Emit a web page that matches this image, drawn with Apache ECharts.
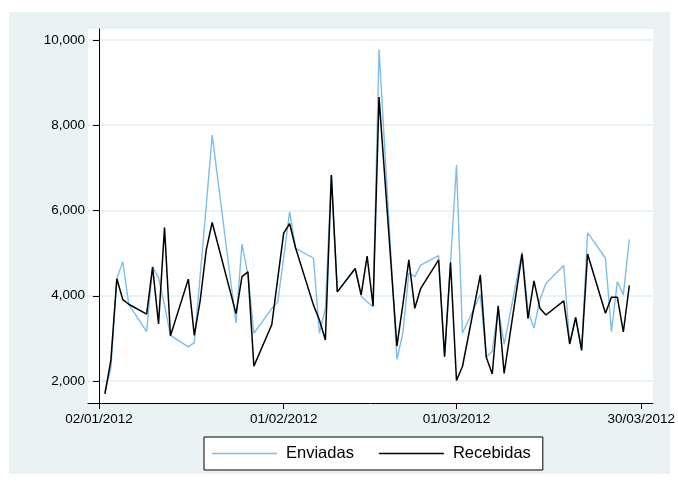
<!DOCTYPE html>
<html>
<head>
<meta charset="utf-8">
<script src="https://cdn.jsdelivr.net/npm/echarts@6/dist/echarts.min.js"></script>
<style>
  html, body { margin: 0; padding: 0; background: #ffffff; }
  #frame { position: absolute; left: 9px; top: 12px; width: 661px; height: 462px; background: #eaf2f3; }
  #chart { position: absolute; left: 0; top: 0; width: 678px; height: 482px; }
</style>
</head>
<body>
<div id="frame"></div>
<div id="chart"></div>
<script>
// Daily message counts, business days of Q1 2012
const dates = [
  '2012-01-02','2012-01-03','2012-01-04','2012-01-05','2012-01-06',
  '2012-01-09','2012-01-10','2012-01-11','2012-01-12','2012-01-13',
  '2012-01-16','2012-01-17','2012-01-18','2012-01-19','2012-01-20',
  '2012-01-24','2012-01-25','2012-01-26','2012-01-27',
  '2012-01-30','2012-01-31','2012-02-01','2012-02-02','2012-02-03',
  '2012-02-06','2012-02-07','2012-02-08','2012-02-09','2012-02-10',
  '2012-02-13','2012-02-14','2012-02-15','2012-02-16','2012-02-17',
  '2012-02-20','2012-02-21','2012-02-22','2012-02-23','2012-02-24',
  '2012-02-27','2012-02-28','2012-02-29','2012-03-01','2012-03-02',
  '2012-03-05','2012-03-06','2012-03-07','2012-03-08','2012-03-09',
  '2012-03-12','2012-03-13','2012-03-14','2012-03-15','2012-03-16',
  '2012-03-19','2012-03-20','2012-03-21','2012-03-22','2012-03-23',
  '2012-03-26','2012-03-27','2012-03-28','2012-03-29','2012-03-30'
];

const enviadas = [
  1750, 2300, 4400, 4800, 3800,
  3160, 4680, 4420, 3780, 3070,
  2800, 2900, 4500, 6100, 7770,
  3360, 5210, 4500, 3120,
  3700, 3850, 4900, 5970, 5110,
  4880, 3120, 3700, 6830, 4090,
  4640, 3990, 3860, 3740, 9780,
  2510, 3120, 4530, 4450, 4720,
  4940, 2570, 4780, 7070, 3120,
  4030, 2560, 2700, 3700, 2860,
  5030, 3650, 3240, 3900, 4290,
  4710, 2880, 3490, 2720, 5480,
  4880, 3160, 4330, 4020, 5320
];

const recebidas = [
  1700, 2490, 4400, 3910, 3800,
  3570, 4670, 3340, 5600, 3060,
  4390, 3070, 3900, 5070, 5720,
  3580, 4450, 4560, 2350,
  3320, 4400, 5470, 5690, 5120,
  3780, 3430, 2960, 6830, 4090,
  4640, 4020, 4930, 3760, 8660,
  2820, 3790, 4840, 3705, 4175,
  4840, 2570, 4780, 2010, 2340,
  4490, 2556, 2164, 3765, 2180,
  4980, 3465, 4350, 3705, 3548,
  3880, 2868, 3490, 2720, 4980,
  3588, 3963, 3963, 3150, 4240
];

// x ticks sit on the first day of each month (days counted from 1 Jan 2012)
const xTickDays = [0, 31, 60, 91];
const xTickLabels = ['02/01/2012', '01/02/2012', '01/03/2012', '30/03/2012'];
const yTicks = [2000, 4000, 6000, 8000, 10000];

const seriesNames = ['Enviadas', 'Recebidas'];

function dayIndex(iso) {
  const p = iso.split('-').map(Number);
  return (Date.UTC(p[0], p[1] - 1, p[2]) - Date.UTC(2012, 0, 1)) / 86400000;
}

function pairs(values) {
  return dates.map((d, i) => [dayIndex(d), values[i]]);
}

const FONT = '"Liberation Sans", Arial, sans-serif';
const chart = echarts.init(document.getElementById('chart'), null, { renderer: 'canvas' });

chart.setOption({
  animation: false,
  backgroundColor: 'transparent',
  textStyle: { fontFamily: FONT },
  grid: {
    left: 88, top: 29, width: 567, height: 374,
    show: true, backgroundColor: '#ffffff', borderWidth: 0
  },
  legend: {
    left: 204, top: 437,
    padding: [8, 12, 8, 8],
    icon: 'rect',
    itemWidth: 65, itemHeight: 1.5, itemGap: 25,
    backgroundColor: '#ffffff', borderColor: '#000000', borderWidth: 1,
    textStyle: { fontSize: 16.5, color: '#000000', fontFamily: FONT, padding: [0, 0, 0, 4] },
    data: seriesNames
  },
  xAxis: {
    type: 'value',
    min: -1.84, max: 92.96,
    axisLine: { show: true, onZero: false, lineStyle: { color: '#000000', width: 1 } },
    axisTick: { show: true, customValues: xTickDays, length: 6, lineStyle: { color: '#000000' } },
    axisLabel: {
      customValues: xTickDays, margin: 9, fontSize: 13.5, color: '#000000', fontFamily: FONT,
      formatter: v => xTickLabels[xTickDays.indexOf(Math.round(v))] || ''
    },
    splitLine: { show: false }
  },
  yAxis: {
    type: 'value',
    min: 1484, max: 10258,
    axisLine: { show: true, lineStyle: { color: '#000000', width: 1 } },
    axisTick: { show: true, customValues: yTicks, length: 6, lineStyle: { color: '#000000' } },
    axisLabel: {
      customValues: yTicks, margin: 3, fontSize: 13.5, color: '#000000', fontFamily: FONT,
      formatter: v => Number(v).toLocaleString('en-US')
    },
    splitLine: { show: true, lineStyle: { color: '#e4eeef', width: 1.5 } }
  },
  series: [
    {
      name: seriesNames[0], type: 'line', data: pairs(enviadas),
      symbol: 'none', color: '#7ebde8',
      lineStyle: { color: '#7ebde8', width: 1.4 }
    },
    {
      name: seriesNames[1], type: 'line', data: pairs(recebidas),
      symbol: 'none', color: '#000000',
      lineStyle: { color: '#000000', width: 1.5 }
    }
  ]
});
</script>
</body>
</html>
